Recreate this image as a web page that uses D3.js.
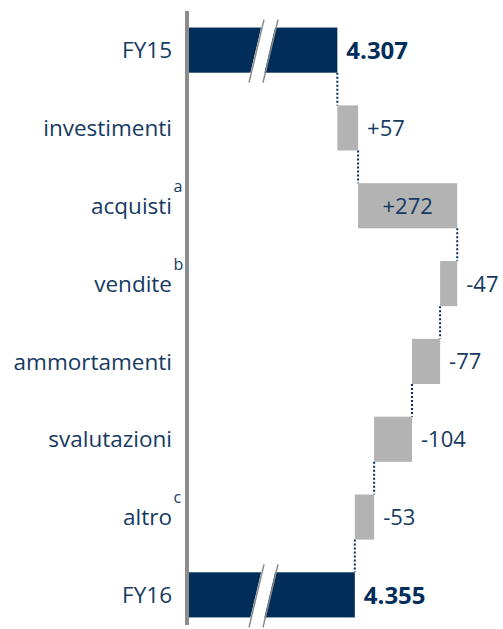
<!DOCTYPE html>
<html><head><meta charset="utf-8">
<script src="https://cdn.jsdelivr.net/npm/d3@7"></script>
<style>body{margin:0;background:#fff}svg{display:block}text{font-family:"Open Sans",sans-serif}</style>
</head><body><svg id="c" width="503" height="629"></svg>
<script>
const categories = ["FY15","investimenti","acquisti","vendite","ammortamenti","svalutazioni","altro","FY16"];
const values = [4307, 57, 272, -47, -77, -104, -53, 4355];
const kinds = ["total","delta","delta","delta","delta","delta","delta","total"];
const labels = ["4.307","+57","+272","-47","-77","-104","-53","4.355"];
const footnotes = ["","","a","b","","","c",""];

const navy = "#002d5a", gray = "#b3b3b3", textCol = "#163a62";
const svg = d3.select("#c");
const x = d3.scaleLinear().domain([3900, 4800]).range([189, 517]);
const y = d3.scaleBand().domain(categories).range([12, 633]).paddingInner(0.42).paddingOuter(0.2);

let cum = 0;
const rows = categories.map((c, i) => {
  let start, end;
  if (kinds[i] === "total") { start = 3900; end = values[i]; cum = values[i]; }
  else { start = cum; end = cum + values[i]; cum = end; }
  return {c, i, start, end, kind: kinds[i], label: labels[i], fn: footnotes[i]};
});

// connectors
for (let i = 0; i < rows.length - 1; i++) {
  const xv = rows[i].end;
  svg.append("line").attr("x1", x(xv)).attr("x2", x(xv))
    .attr("y1", y(rows[i].c) + y.bandwidth()).attr("y2", y(rows[i+1].c))
    .attr("stroke", navy).attr("stroke-width", 2).attr("stroke-dasharray", "2,2");
}

// bars
svg.selectAll("rect.bar").data(rows).join("rect").attr("class","bar")
  .attr("x", d => x(Math.min(d.start, d.end)))
  .attr("width", d => Math.abs(x(d.end) - x(d.start)))
  .attr("y", d => y(d.c)).attr("height", y.bandwidth())
  .attr("fill", d => d.kind === "total" ? navy : gray);

// break marks
rows.filter(d => d.kind === "total").forEach(d => {
  const top = y(d.c) - 8, bot = y(d.c) + y.bandwidth() + 10;
  const xt = 263, xb = 248, w = 14;
  svg.append("path").attr("d", `M${xt},${top}L${xt+w},${top}L${xb+w},${bot}L${xb},${bot}Z`).attr("fill", "#fff");
  [0, w].forEach(o => {
    svg.append("line").attr("x1", xt+o+1).attr("y1", top).attr("x2", xb+o+1).attr("y2", bot)
      .attr("stroke", "#8a8a8a").attr("stroke-width", 1.5);
  });
});

// axis line
svg.append("line").attr("x1", 187).attr("x2", 187).attr("y1", 11).attr("y2", 625)
  .attr("stroke", "#8c8c8c").attr("stroke-width", 4);

// category labels
svg.selectAll("text.cat").data(rows).join("text").attr("class","cat")
  .attr("x", 172).attr("y", d => y(d.c) + y.bandwidth()/2)
  .attr("dy", "0.36em").attr("text-anchor", "end")
  .attr("font-size", 22.5).attr("fill", textCol).text(d => d.c);
svg.selectAll("text.fn").data(rows.filter(d => d.fn)).join("text").attr("class","fn")
  .attr("x", 173.5).attr("y", d => y(d.c) + y.bandwidth()/2 - 14)
  .attr("text-anchor", "start").attr("font-size", 16).attr("fill", textCol).text(d => d.fn);

// value labels
svg.selectAll("text.val").data(rows).join("text").attr("class","val")
  .attr("x", d => d.label === "+272" ? x((d.start + d.end)/2) : x(Math.max(d.start, d.end)) + 9)
  .attr("y", d => y(d.c) + y.bandwidth()/2).attr("dy", "0.36em")
  .attr("text-anchor", d => d.label === "+272" ? "middle" : "start")
  .attr("font-size", d => d.kind === "total" ? 24 : 22)
  .attr("font-weight", d => d.kind === "total" ? "bold" : "normal")
  .attr("fill", d => d.kind === "total" ? navy : textCol).text(d => d.label);
</script></body></html>
